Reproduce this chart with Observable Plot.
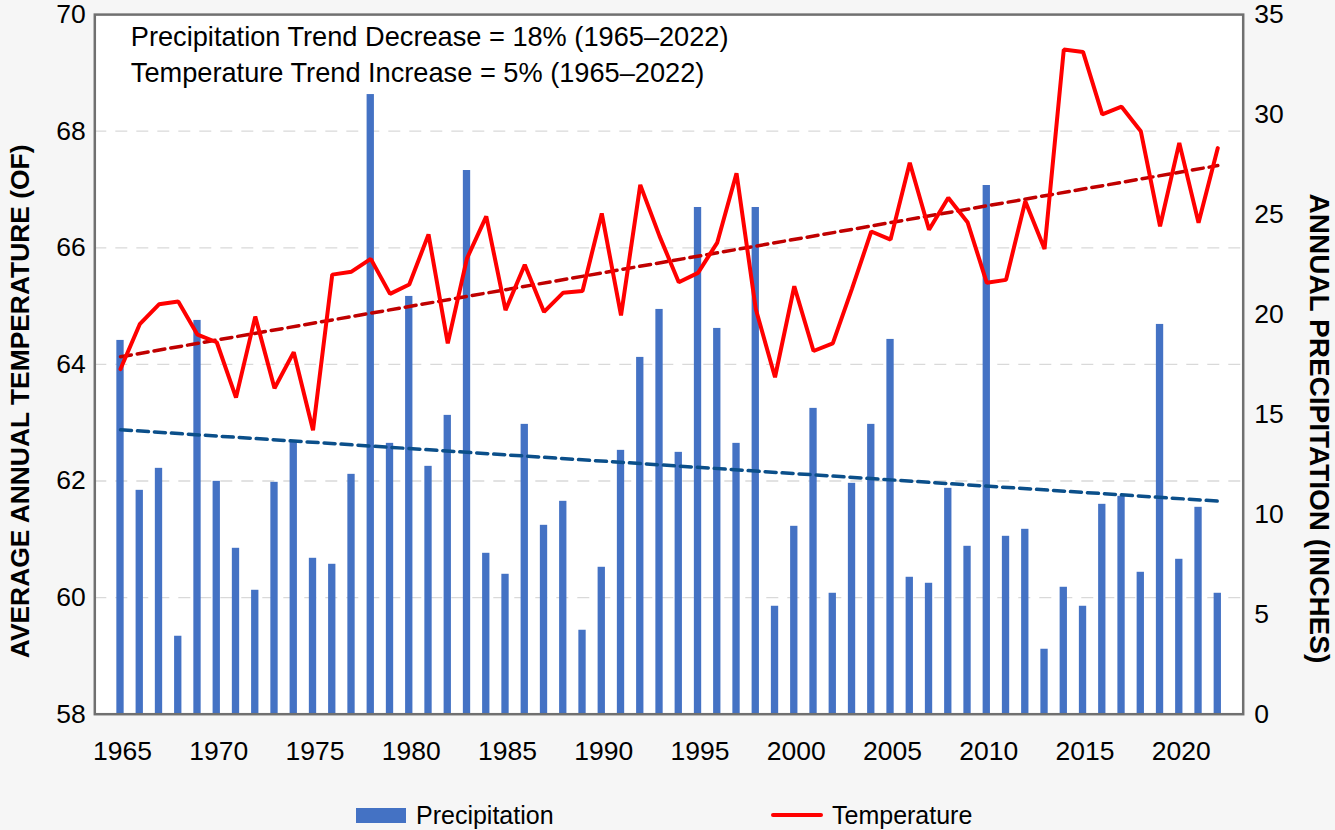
<!DOCTYPE html>
<html><head><meta charset="utf-8">
<script src="https://cdn.jsdelivr.net/npm/d3@7"></script>
<script src="https://cdn.jsdelivr.net/npm/@observablehq/plot@0.6"></script>
<style>
body{margin:0;background:#f6f6f6;font-family:"Liberation Sans",Arial,sans-serif;}
#wrap{position:relative;width:1335px;height:830px;overflow:hidden;}
#wrap svg{position:absolute;left:0;top:0;}
.leg{position:absolute;top:799px;height:32px;display:flex;align-items:center;font-size:25px;color:#000;white-space:nowrap;}
.sw{display:inline-block;}
</style></head><body><div id="wrap"></div>
<script>
const years = [1965,1966,1967,1968,1969,1970,1971,1972,1973,1974,1975,1976,1977,1978,1979,1980,1981,1982,1983,1984,1985,1986,1987,1988,1989,1990,1991,1992,1993,1994,1995,1996,1997,1998,1999,2000,2001,2002,2003,2004,2005,2006,2007,2008,2009,2010,2011,2012,2013,2014,2015,2016,2017,2018,2019,2020,2021,2022];
const precipitation = [18.7,11.2,12.3,3.9,19.7,11.65,8.3,6.2,11.6,13.6,7.8,7.5,12.0,31.0,13.55,20.9,12.4,14.95,27.2,8.05,7.0,14.5,9.45,10.65,4.2,7.35,13.2,17.85,20.25,13.1,25.35,19.3,13.55,25.35,5.4,9.4,15.3,6.05,11.55,14.5,18.75,6.85,6.55,11.3,8.4,26.45,8.9,9.25,3.25,6.35,5.4,10.5,10.9,7.1,19.5,7.75,10.35,6.05];
const temperature = [63.92,64.69,65.03,65.08,64.51,64.38,63.43,64.82,63.59,64.21,62.87,65.54,65.59,65.81,65.21,65.37,66.23,64.36,65.82,66.54,64.93,65.71,64.90,65.23,65.26,66.59,64.84,67.08,66.2,65.41,65.57,66.09,67.28,64.95,63.78,65.34,64.23,64.36,65.3,66.28,66.14,67.46,66.31,66.86,66.44,65.40,65.45,66.80,65.98,69.40,69.36,68.29,68.42,68.00,66.37,67.80,66.43,67.71];
const trendYears = [1965, 2022];
const precipTrend = [14.23, 10.66];
const tempTrend = [64.13, 67.41];
const tempTicks = [58,60,62,64,66,68,70];
const precipTicks = [0,5,10,15,20,25,30,35];
const yearTicks = [1965,1970,1975,1980,1985,1990,1995,2000,2005,2010,2015,2020];
const annotations = ["Precipitation Trend Decrease = 18% (1965\u20132022)", "Temperature Trend Increase = 5% (1965\u20132022)"];
const leftTitle = "AVERAGE ANNUAL TEMPERATURE (OF)";
const rightTitle = "ANNUAL PRECIPITATION (INCHES)";
const legendLabels = ["Precipitation", "Temperature"];

const T0 = 58, T1 = 70, P1 = 35;
const toTemp = p => T0 + p * (T1 - T0) / P1;
const data = years.map((y, i) => ({year: y, precip: precipitation[i], temp: temperature[i]}));
const trend = trendYears.map((y, i) => ({year: y, p: toTemp(precipTrend[i]), t: tempTrend[i]}));
const halfBar = 0.19;
const FONT = '"Liberation Sans", Arial, sans-serif';

const chart = Plot.plot({
  width: 1335, height: 790,
  marginLeft: 94.3, marginRight: 92.3, marginTop: 14.1, marginBottom: 76.3,
  style: {fontFamily: FONT, fontSize: "26px", color: "#000", background: "transparent", overflow: "visible"},
  x: {domain: [1963.665, 2023.32]},
  y: {domain: [T0, T1]},
  marks: [
    Plot.frame({fill: "white"}),
    Plot.ruleY(tempTicks.filter(t => t > T0 && t < T1), {stroke: "#d9d9d9", strokeWidth: 1.3, strokeDasharray: "12,9"}),
    Plot.rect(data, {x1: d => d.year - halfBar, x2: d => d.year + halfBar, y1: T0, y2: d => toTemp(d.precip), fill: "#4472C4"}),
    Plot.line(trend, {x: "year", y: "p", stroke: "#0B4F8A", strokeWidth: 3.5, strokeDasharray: "11,6"}),
    Plot.line(trend, {x: "year", y: "t", stroke: "#C00000", strokeWidth: 3.5, strokeDasharray: "11,6"}),
    Plot.line(data, {x: "year", y: "temp", stroke: "#FF0000", strokeWidth: 4, strokeLinejoin: "miter"}),
    Plot.frame({stroke: "#707070", strokeWidth: 2.5}),
    Plot.axisX(yearTicks, {tickSize: 0, tickPadding: 27, tickFormat: d => String(d), label: null, dx: 2, fontSize: 26.5}),
    Plot.axisY(tempTicks, {anchor: "left", tickSize: 0, tickPadding: 9, label: null, fontSize: 26.5, tickFormat: d => String(d)}),
    Plot.axisY(precipTicks.map(toTemp), {anchor: "right", tickSize: 0, tickPadding: 11, label: null, fontSize: 26.5,
      tickFormat: d => String(Math.round((d - T0) * P1 / (T1 - T0)))}),
    Plot.text([leftTitle], {frameAnchor: "left", dx: -74, dy: 37, rotate: -90, textAnchor: "middle", lineAnchor: "middle", fontWeight: "bold", fontSize: 26.4}),
    Plot.text([rightTitle], {frameAnchor: "right", dx: 76, dy: 64, rotate: 90, textAnchor: "middle", lineAnchor: "middle", fontWeight: "bold", fontSize: 28}),
    Plot.text([annotations.join("\n")], {frameAnchor: "top-left", dx: 36, dy: 6.5, textAnchor: "start", lineAnchor: "top", lineHeight: 1.3, fontSize: 27.2})
  ]
});
const wrap = document.getElementById("wrap");
wrap.appendChild(chart);

const leg1 = document.createElement("div");
leg1.className = "leg"; leg1.style.left = "356px";
leg1.innerHTML = '<span class="sw" style="width:50px;height:15px;background:#4472C4;margin-right:10px"></span><span></span>';
leg1.lastChild.textContent = legendLabels[0];
wrap.appendChild(leg1);
const leg2 = document.createElement("div");
leg2.className = "leg"; leg2.style.left = "771px";
leg2.innerHTML = '<span class="sw" style="width:52px;height:4px;background:#FF0000;border-radius:2px;margin-right:9px"></span><span></span>';
leg2.lastChild.textContent = legendLabels[1];
wrap.appendChild(leg2);
</script></body></html>
